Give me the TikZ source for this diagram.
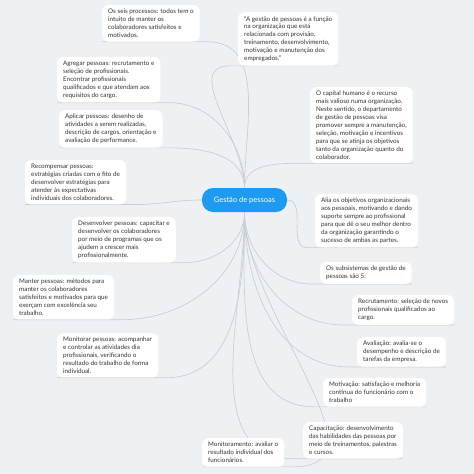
\documentclass[tikz,border=0pt]{standalone}
\usepackage{fontspec}
\setmainfont{Lato}
\usetikzlibrary{calc}
\definecolor{bgc}{HTML}{EEF1F4}
\definecolor{linec}{HTML}{C9CED5}
\definecolor{ctr}{HTML}{1E9BF0}
\definecolor{txt}{HTML}{333333}
\pgfdeclarelayer{back}
\pgfdeclarelayer{lines}
\pgfsetlayers{back,lines,main}
\tikzset{
  leaf/.style={anchor=north west, fill=white, rounded corners=6pt, inner xsep=6pt, inner ysep=4pt,
    align=left, text=txt, font=\fontsize{6.3}{7.9}\selectfont},
  conn/.style={draw=linec, line width=0.7pt},
  central/.style={fill=ctr, rounded corners=11pt, text=white, minimum width=85pt, minimum height=24pt,
    font=\fontsize{7.5}{9}\selectfont}
}
\begin{document}
\begin{tikzpicture}[x=1pt,y=-1pt]
\begin{pgfonlayer}{back}
\fill[bgc] (0,0) rectangle (474,474);
\end{pgfonlayer}
\useasboundingbox (0,0) rectangle (474,474);
\node[central] (c) at (244.5,200) {Gestão de pessoas};
\node[leaf] (n1) at (102,5) {Os seis processos: todos tem o\\intuito de manter os\\colaboradores satisfeitos e\\motivados.};
\node[leaf] (n2) at (238,12) {“A gestão de pessoas é a função\\na organização que está\\relacionada com provisão,\\treinamento, desenvolvimento,\\motivação e manutenção dos\\empregados.”};
\node[leaf] (n3) at (57,57) {Agregar pessoas: recrutamento e\\seleção de profissionais.\\Encontrar profissionais\\qualificados e que atendam aos\\requisitos do cargo.};
\node[leaf] (n4) at (59,110) {Aplicar pessoas: desenho de\\atividades a serem realizadas,\\descrição de cargos, orientação e\\avaliação de performance.};
\node[leaf] (n5) at (25,160) {Recompensar pessoas:\\estratégias criadas com o fito de\\desenvolver estratégias para\\atender às expectativas\\individuais dos colaboradores.};
\node[leaf] (n6) at (310,87) {O capital humano é o recurso\\mais valioso numa organização.\\Neste sentido, o departamento\\de gestão de pessoas visa\\promover sempre a manutenção,\\seleção, motivação e incentivos\\para que se atinja os objetivos\\tanto da organização quanto do\\colaborador.};
\node[leaf] (n8) at (72,217) {Desenvolver pessoas: capacitar e\\desenvolver os colaboradores\\por meio de programas que os\\ajudem a crescer mais\\profissionalmente.};
\node[leaf] (n9) at (315,194) {Alia os objetivos organizacionais\\aos pessoais, motivando e dando\\suporte sempre ao profissional\\para que dê o seu melhor dentro\\da organização garantindo o\\sucesso de ambas as partes.};
\node[leaf] (n10) at (320,262) {Os subsistemas de gestão de\\pessoas são 5:};
\node[leaf] (n11) at (13,275) {Manter pessoas: métodos para\\manter os colaboradores\\satisfeitos e motivados para que\\exerçam com excelência seu\\trabalho.};
\node[leaf] (n12) at (352,295) {Recrutamento: seleção de novos\\profissionais qualificados ao\\cargo.};
\node[leaf] (n13) at (357,337) {Avaliação: avalia-se o\\desempenho e descrição de\\tarefas da empresa.};
\node[leaf] (n14) at (323,378) {Motivação: satisfação e melhoria\\contínua do funcionário com o\\trabalho};
\node[leaf] (n15) at (303,422) {Capacitação: desenvolvimento\\das habilidades das pessoas por\\meio de treinamentos, palestras\\e cursos.};
\node[leaf] (n16) at (57,333) {Monitorar pessoas: acompanhar\\e controlar as atividades dia\\profissionais, verificando o\\resultado do trabalho de forma\\individual.};
\node[leaf] (n17) at (202,438) {Monitoramento: avaliar o\\resultado individual dos\\funcionários.};
\begin{pgfonlayer}{lines}
% left-side connectors
\foreach \n/\s/\o in {n1/c.north/90, n3/c.north/90, n4/c.north/90, n5/c.west/180, n8/c.south/270, n11/c.south/270, n16/c.south/270, n17/c.south/270}{
  \draw[conn] (\s) to[out=\o, in=0] ($(\n.south east)+(8,0)$) -- (\n.south west);
}
% right-side connectors
\foreach \n/\s/\o in {n2/c.north/90, n6/c.north/90, n9/c.east/0, n10/c.south/270, n12/c.south/270, n13/c.south/270, n14/c.south/270, n15/c.south/270}{
  \draw[conn] (\s) to[out=\o, in=180] ($(\n.south west)+(-8,0)$) -- (\n.south east);
}
\end{pgfonlayer}
\end{tikzpicture}
\end{document}
